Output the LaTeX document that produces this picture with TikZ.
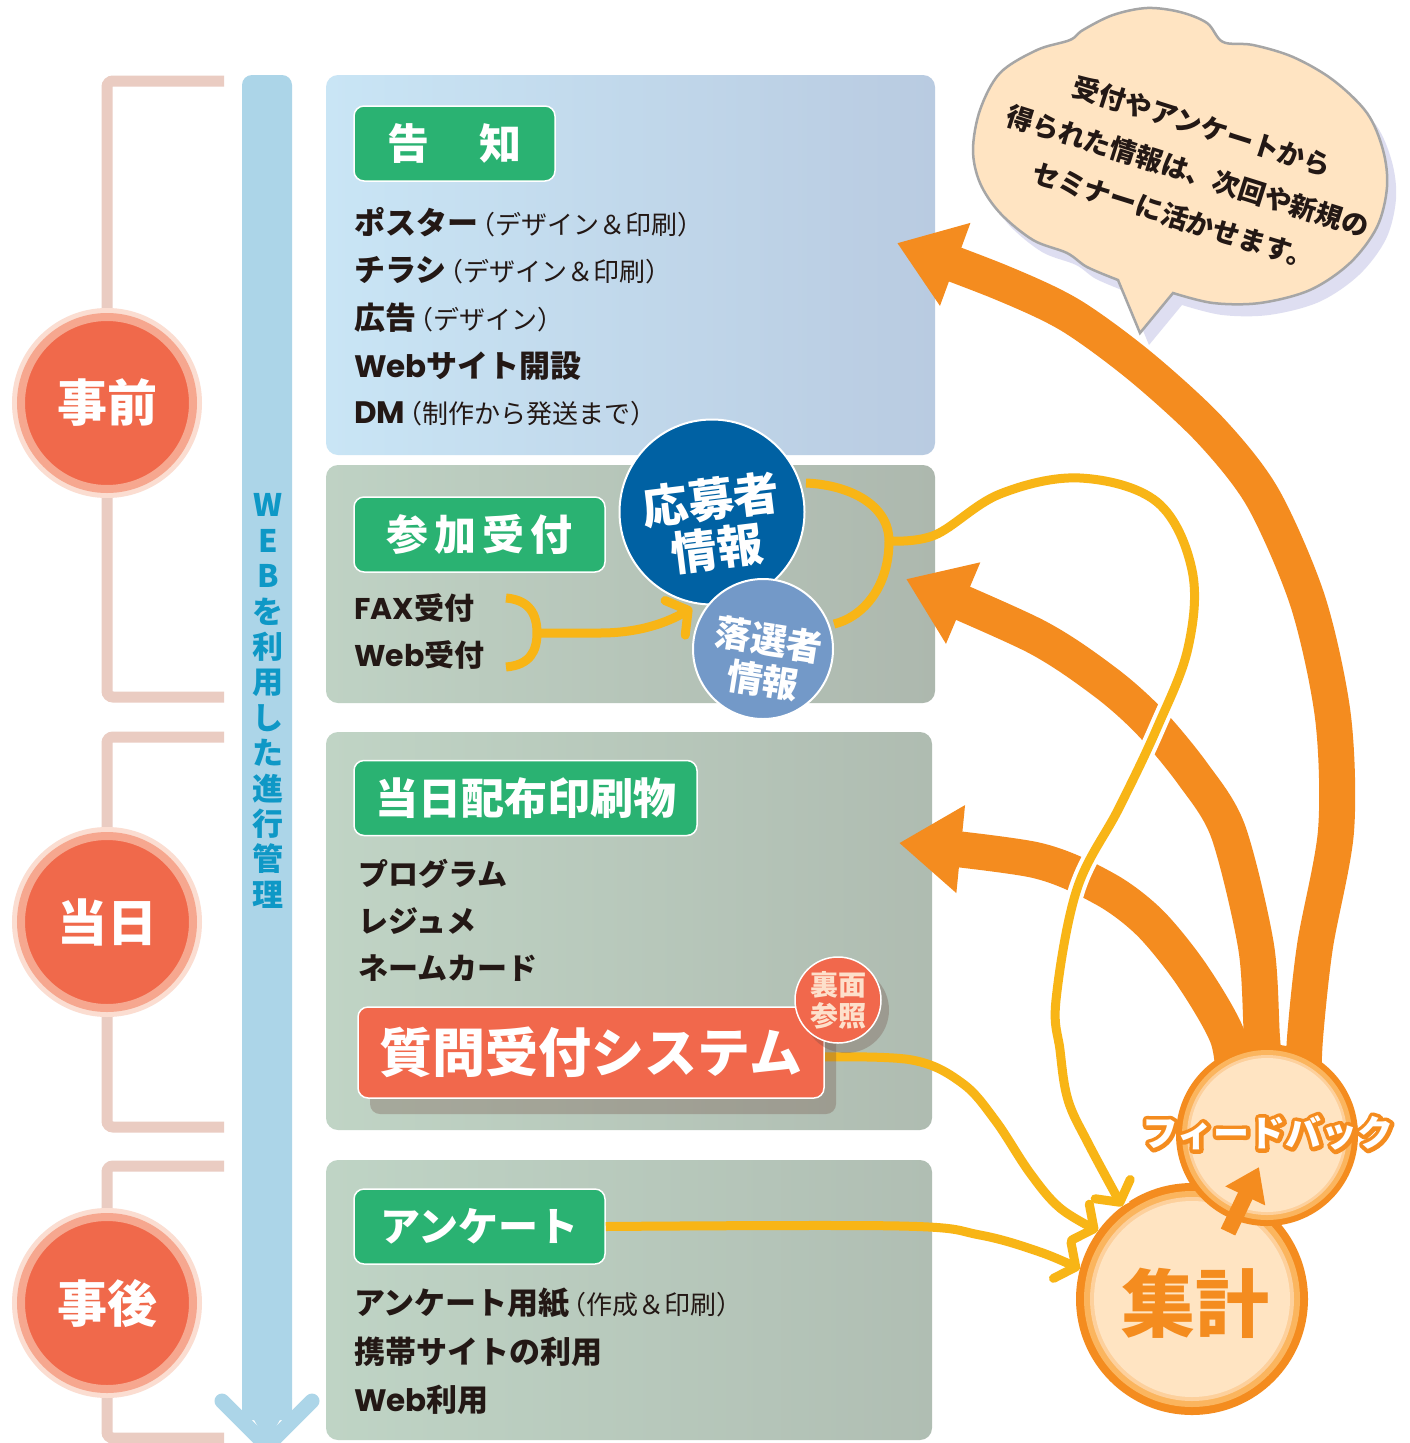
\documentclass[tikz,border=0pt]{standalone}
\usepackage{fontspec}
\setmainfont{Noto Sans CJK JP}
\newfontfamily\latn{Poppins}
\usetikzlibrary{arrows.meta,shadows,calc}

\definecolor{pinkline}{HTML}{EACCC2}
\definecolor{barblue}{HTML}{ACD5E8}
\definecolor{webtext}{HTML}{0E98C6}
\definecolor{tagGreen}{HTML}{2AB272}
\definecolor{phaseRed}{HTML}{F0694B}
\definecolor{ringMid}{HTML}{F6A78F}
\definecolor{ringOut}{HTML}{FBDDD1}
\definecolor{navy}{HTML}{0061A3}
\definecolor{skyblue}{HTML}{7399C8}
\definecolor{feedOrange}{HTML}{F48C1F}
\definecolor{feedYellow}{HTML}{F8B516}
\definecolor{peach}{HTML}{FFE4C2}
\definecolor{peachRing}{HTML}{FBB55E}
\definecolor{peachPale}{HTML}{FDD09C}
\definecolor{inkgray}{HTML}{231815}
\definecolor{sysRed}{HTML}{F1684C}
\definecolor{badgeText}{HTML}{FDE0CB}
\definecolor{panA1}{HTML}{C9E5F5}
\definecolor{panA2}{HTML}{B9CBE1}
\definecolor{panB1}{HTML}{BFD2C4}
\definecolor{panB2}{HTML}{ADB8AE}
\definecolor{panC1}{HTML}{C0D4C5}
\definecolor{panC2}{HTML}{AFBCB1}
\definecolor{panD1}{HTML}{BFD4C5}
\definecolor{panD2}{HTML}{B0BEB3}
\definecolor{shadowBrown}{HTML}{6E4A40}

\newcommand{\fs}[1]{\fontsize{#1}{#1}\selectfont}
\newcommand{\paren}[1]{\hspace{-9pt}{\mdseries\fs{26}#1}}
% stroked text for the outlined label
\newcommand{\strokedtext}[1]{\special{pdf:literal direct 2 Tr 8 w 1 j}#1\special{pdf:literal direct 0 Tr}}
% outline of the speech bubble
\newcommand{\bubblepath}{plot[smooth, tension=0.55] coordinates {(1173,293) (1213,303) (1260,303) (1310,290) (1350,263) (1377,227) (1387,187) (1383,150) (1367,113) (1333,80) (1293,57) (1253,45) (1223,42) (1207,23) (1180,12) (1147,8) (1113,15) (1083,30) (1070,40) (1037,50) (1000,73) (980,110) (973,150) (980,183) (1000,213) (1033,240) (1067,253) (1087,267) (1118,280)} -- (1140,333) -- cycle}
% long data line from the applicant brace to the tally
\newcommand{\longpath}{plot[smooth, tension=0.6] coordinates {(rbMid) (935,535) (1000,494) (1080,478) (1157,502) (1192,570) (1188,648) (1157,728) (1119,808) (1077,889) (1056,1000) (1060,1050) (1068,1100) (1088,1143) (shukei.127)}}

\begin{document}
\begin{tikzpicture}[x=1pt,y=-1pt,
  bracket/.style={draw=pinkline, line width=11, rounded corners=6},
  phase/.style={circle, minimum size=172, inner sep=0, fill=phaseRed, draw=ringMid, line width=8,
    preaction={draw=ringOut, line width=18}, text=white, font=\bfseries\fs{50}},
  panel/.style={rounded corners=12, inner sep=0},
  tag/.style={fill=tagGreen, draw=white, line width=1.5, rounded corners=10, text=white,
    font=\bfseries\fs{42}, minimum height=75, inner sep=0},
  item/.style={anchor=west, inner sep=0, text=inkgray, font=\bfseries\fs{31}},
  yline/.style={draw=feedYellow, line width=9},
  yarrow/.style={yline, -{Straight Barb[length=15pt, width=40pt, round]}},
  oarc/.style={draw=feedOrange, line width=36, -{Triangle[length=62pt, width=84pt]}},
  blob/.style={circle, draw=white, line width=2, inner sep=0},
  blobtext/.style={text=white, align=center, inner sep=0},
  fbtext/.style={font=\bfseries\fs{36}, inner sep=0}]

\fill[white] (0,0) rectangle (1409,1443);
\useasboundingbox (0,0) rectangle (1409,1443);

% phase brackets
\draw[bracket] (224,81) -- (107,81) -- (107,697) -- (224,697);
\draw[bracket] (224,737) -- (107,737) -- (107,1127) -- (224,1127);
\draw[bracket] (224,1166) -- (107,1166) -- (107,1438) -- (224,1438);

\node[phase] (before) at (107,403) {事前};
\node[phase] (theday) at (107,922) {当日};
\node[phase] (after) at (107,1303) {事後};

% WEB progress bar
\fill[barblue, rounded corners=10] (242,75) rectangle (292,1420);
\fill[barblue] (242,1398) -- (292,1398) -- (267,1443) -- cycle;
\draw[barblue, line width=15, line cap=round, line join=round] (222,1401) -- (267,1446) -- (312,1401);
\node[text=webtext, font=\bfseries\fontsize{31}{35.4}\selectfont, align=center, inner sep=0] (webtxt) at (268,701)
  {W\\E\\B\\を\\利\\用\\し\\た\\進\\行\\管\\理};

% panels
\node[panel, minimum width=609, minimum height=380, left color=panA1, right color=panA2] (pan1) at (630.5,265) {};
\node[panel, minimum width=609, minimum height=238, left color=panB1, right color=panB2] (pan2) at (630.5,584) {};
\node[panel, minimum width=606, minimum height=398, left color=panC1, right color=panC2] (pan3) at (629,931) {};
\node[panel, minimum width=606, minimum height=280, left color=panD1, right color=panD2] (pan4) at (629,1300) {};

% green tags
\node[tag, minimum width=201] (tKokuchi) at (454.5,143.5) {告\hspace{50pt}知};
\node[tag, minimum width=251] (tSanka) at (479.5,534.5) {\addfontfeature{LetterSpace=15}参加受付};
\node[tag, minimum width=343, font=\bfseries\fs{43}] (tToujitsu) at (525.5,798) {当日配布印刷物};
\node[tag, minimum width=251, font=\bfseries\fs{40}] (tEnquete) at (479.5,1226.5) {アンケート};

% panel items
\node[item] (poster) at (354,222) {ポスター\paren{（デザイン＆印刷）}};
\node[item] (chirashi) at (354,270) {チラシ\paren{（デザイン＆印刷）}};
\node[item] (koukoku) at (354,318) {広告\paren{（デザイン）}};
\node[item] (website) at (354,366) {{\latn Web}サイト開設};
\node[item] (dm) at (354,414) {{\latn DM}\paren{（制作から発送まで）}};

\node[item, font=\bfseries\fs{30}] (fax) at (354,608) {{\latn FAX}受付};
\node[item, font=\bfseries\fs{30}] (webuke) at (354,655) {{\latn Web}受付};

\node[item, font=\bfseries\fs{30}] (program) at (358,874) {プログラム};
\node[item, font=\bfseries\fs{30}] (resume) at (358,921) {レジュメ};
\node[item, font=\bfseries\fs{30}] (namecard) at (358,968) {ネームカード};

\node[item] (enqPaper) at (354,1303) {アンケート用紙\paren{（作成＆印刷）}};
\node[item] (mobile) at (354,1352) {携帯サイトの利用};
\node[item] (webuse) at (354,1400) {{\latn Web}利用};

% tally circle
\node[circle, minimum size=232, inner sep=0, fill=feedOrange] (shukei) at (1192,1299) {};
\fill[peachRing] (shukei) circle (108);
\fill[peachPale] (shukei) circle (102);
\fill[peach] (shukei) circle (98);

% feedback arcs
\coordinate (toPan1) at (897,243);
\coordinate (toPan2) at (906,579);
\coordinate (toPan3) at (899,843);
\coordinate (fbc) at (1267,1135);
\draw[oarc] plot[smooth] coordinates {($(fbc)+(36,-40)$) (1305,1038) (1315,946) (1336,831) (1333,717) (1308,602) (1263,498) (1210,430) (1140,366) (1070,315) (1000,282) (toPan1)};
\draw[oarc] plot[smooth] coordinates {($(fbc)+(0,-40)$) (1262,1038) (1256,946) (1228,831) (1193,774) (1150,722) (1105,682) (1035,636) (toPan2)};
\draw[oarc] plot[smooth] coordinates {($(fbc)+(-32,-40)$) (1228,1038) (1192,975) (1150,923) (1105,889) (1035,860) (toPan3)};

% entry braces and data flow
\coordinate (braceTop) at (506,598);
\coordinate (braceBot) at (506,667);
\coordinate (braceMid) at (537,633);
\coordinate (toRakusen) at (692,608);
\draw[yline] (braceTop) .. controls (530,600) and (537,615) .. (braceMid) .. controls (537,651) and (530,665) .. (braceBot);
\draw[yarrow] (braceMid) -- (600,633) .. controls (640,633) and (668,622) .. (toRakusen);

\coordinate (rbTop) at (806,483);
\coordinate (rbMid) at (889,541);
\coordinate (rbBot) at (834,624);
\draw[yline] (rbTop) .. controls (850,485) and (889,505) .. (rbMid) .. controls (889,590) and (860,618) .. (rbBot);
\begin{scope}
  \clip (936,0) rectangle (1409,1443);
  \draw[white, line width=17] \longpath;
\end{scope}
\draw[yarrow] \longpath;

\draw[yarrow] plot[smooth, tension=0.6] coordinates {(824,1057) (912,1060) (962,1083) (995,1120) (1030,1173) (1060,1208) (shukei.144)};
\draw[yarrow] plot[smooth, tension=0.6] coordinates {(tEnquete.east) (900,1226) (980,1235) (1040,1252) (shukei.165)};

% applicant circles
\node[blob, fill=navy, minimum size=185] (oubo) at (712,512) {};
\node[blobtext, rotate=7, font=\bfseries\fontsize{46}{49}\selectfont] (ouboLabel) at ($(oubo)+(2,12)$) {応募者\\情報};
\node[blob, fill=skyblue, minimum size=140] (rakusen) at (763,649) {};
\node[blobtext, rotate=-9, font=\bfseries\fontsize{36}{41}\selectfont] (rakusenLabel) at ($(rakusen)+(3,11)$) {落選者\\情報};

% question system
\node[fill=sysRed, draw=white, line width=1.5, rounded corners=10, text=white, font=\bfseries\fs{53}, inner sep=0,
  minimum width=466, minimum height=91, drop shadow={shadow xshift=12pt, shadow yshift=-16pt, opacity=0.3, fill=shadowBrown}] (qsys) at (591,1052.5) {質問受付システム};
\node[circle, fill=sysRed, draw=white, line width=1.5, minimum size=86, inner sep=0, text=badgeText,
  font=\bfseries\fontsize{28}{31}\selectfont, align=center, drop shadow={shadow xshift=8pt, shadow yshift=-10pt, opacity=0.3, fill=shadowBrown}] (uramen) at (838,1000) {裏面\\参照};

% feedback node
\node[circle, minimum size=182, inner sep=0, fill=feedOrange] (fb) at (fbc) {};
\fill[peachRing] (fb) circle (85);
\fill[peachPale] (fb) circle (80);
\fill[peach] (fb) circle (77);
\node[text=feedOrange, font=\bfseries\fs{74}, inner sep=0] (shukeiLabel) at ($(shukei)+(3,4)$) {集計};
\draw[draw=feedOrange, line width=16, -{Triangle[length=32pt, width=42pt]}] ($(shukei)+(36,-67)$) -- ($(fb)+(-8,32)$);
\node[fbtext, text=feedOrange] (fbShade) at (1268,1133) {\strokedtext{フィードバック}};
\node[fbtext, text=white] (fbLabel) at (fbShade) {フィードバック};

% speech bubble
\fill[gray!60!blue!40, opacity=0.45, shift={(9,12)}] \bubblepath;
\filldraw[fill=peach, draw=gray!70, line width=2.5] \bubblepath;
\node[rotate=-17.5, align=center, text=inkgray, font=\bfseries\fontsize{27}{47}\selectfont, inner sep=0] (bubbleTxt) at (1188,171)
  {受付やアンケートから\\得られた情報は、次回や新規の\\セミナーに活かせます。};
\end{tikzpicture}
\end{document}
